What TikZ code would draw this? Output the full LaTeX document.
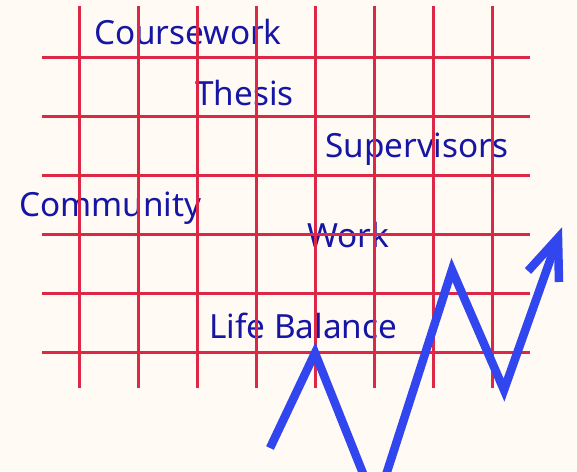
\documentclass[tikz,border=0pt]{standalone}
\usepackage{fontspec}
\setmainfont{Noto Sans}
\definecolor{bgcream}{RGB}{255,250,243}
\definecolor{gridred}{RGB}{220,40,70}
\definecolor{textblue}{RGB}{22,22,165}
\definecolor{zigblue}{RGB}{50,70,240}
\tikzset{
  gridline/.style={draw=gridred, line width=3pt},
  label/.style={inner sep=0pt, anchor=base west, text=textblue, font=\fontsize{33.3}{38}\selectfont},
  zig/.style={draw=zigblue, line width=8.5pt, line join=miter, miter limit=10}
}
\begin{document}
\begin{tikzpicture}[x=1pt, y=-1pt]
\fill[bgcream] (0,0) rectangle (577,471);
\useasboundingbox (0,0) rectangle (577,471);
\clip (0,0) rectangle (577,471);
% labels
\node[label] (cw) at (94,44) {Coursework};
\node[label] (th) at (195,105) {Thesis};
\node[label] (sv) at (325,157) {Supervisors};
\node[label] (cm) at (19,216) {Community};
\node[label] (wk) at (307,247) {Work};
\node[label] (lb) at (209,338) {Life Balance};
% grid
\foreach \x in {79,138,197,256,315,374,433,492} {
  \draw[gridline] (\x,6) -- (\x,388);
}
\foreach \y in {57,116,175,234,293,352} {
  \draw[gridline] (42,\y) -- (530,\y);
}
% zigzag arrow
\coordinate (z0) at (270,448);
\coordinate (z1) at (315,353);
\coordinate (z2) at (376,506);
\coordinate (z3) at (452,270);
\coordinate (z4) at (504,390);
\coordinate (tip) at (558,238);
\coordinate (armL) at (528,271);
\coordinate (armR) at (559,282);
\draw[zig] (z0) -- (z1) -- (z2) -- (z3) -- (z4) -- (tip);
\draw[zig] (armL) -- (tip) -- (armR);
\end{tikzpicture}
\end{document}
